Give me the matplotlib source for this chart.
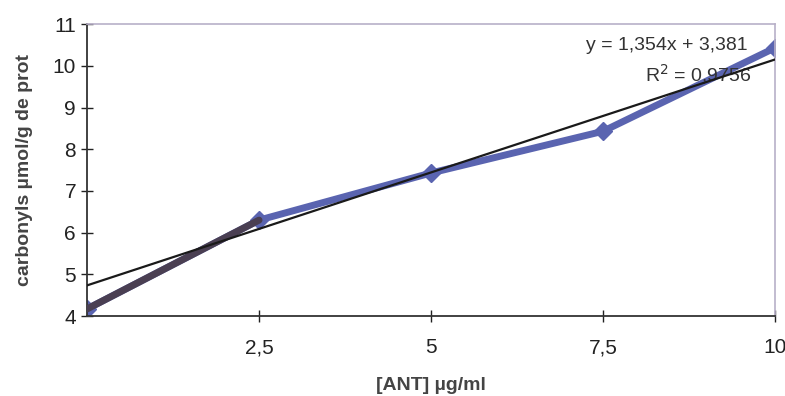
import matplotlib.pyplot as plt
import numpy as np

plt.rcParams['font.family'] = ['Liberation Sans', 'DejaVu Sans']

# data
conc = [0, 2.5, 5, 7.5, 10]
carbonyls = [4.17, 6.3, 7.43, 8.43, 10.43]
xticks = [2.5, 5, 7.5, 10]
xticklabels = ['2,5', '5', '7,5', '10']
yticks = [4, 5, 6, 7, 8, 9, 10, 11]

# excel linear trendline (x = point index 1..5)
slope = 1.354
intercept = 3.381
r2 = 0.9756

fig = plt.figure(figsize=(7.85, 3.96), dpi=100)
ax = fig.add_axes([0.111, 0.202, 0.876, 0.737])

ax.plot(conc, carbonyls, color='#5a64b0', lw=5, marker='D', ms=9,
        solid_capstyle='round', zorder=2)
ax.plot(conc[:2], carbonyls[:2], color='#4a3f52', lw=5,
        solid_capstyle='round', zorder=3)

idx = np.arange(1, len(conc) + 1)
trend = slope * idx + intercept
ax.plot(conc, trend, color='#1a1a1a', lw=1.6, zorder=4)

ax.text(0.961, 0.928, 'y = 1,354x + 3,381', transform=ax.transAxes,
        ha='right', va='center', fontsize=14, color='#333333')
ax.text(0.966, 0.83, 'R$^2$ = 0,9756', transform=ax.transAxes,
        ha='right', va='center', fontsize=14, color='#333333')

ax.set_xlim(0, 10)
ax.set_ylim(4, 11)
ax.set_xticks(xticks)
ax.set_xticklabels(xticklabels)
ax.set_yticks(yticks)
ax.tick_params(axis='both', direction='inout', length=8, width=1,
               labelsize=15, colors='#222222')
ax.tick_params(axis='x', pad=12)
ax.tick_params(axis='y', pad=4)

for side in ['left', 'bottom']:
    ax.spines[side].set_color('#333333')
    ax.spines[side].set_linewidth(1.3)
for side in ['top', 'right']:
    ax.spines[side].set_color('#b8b0c8')
    ax.spines[side].set_linewidth(1.2)
    ax.spines[side].set_linestyle((0, (2, 1)))

ax.set_xlabel('[ANT] µg/ml', fontsize=14, fontweight='bold',
              color='#444444', labelpad=14)
ax.set_ylabel('carbonyls µmol/g de prot', fontsize=14, fontweight='bold',
              color='#444444', labelpad=14)

fig.savefig('out.png', dpi=100)
